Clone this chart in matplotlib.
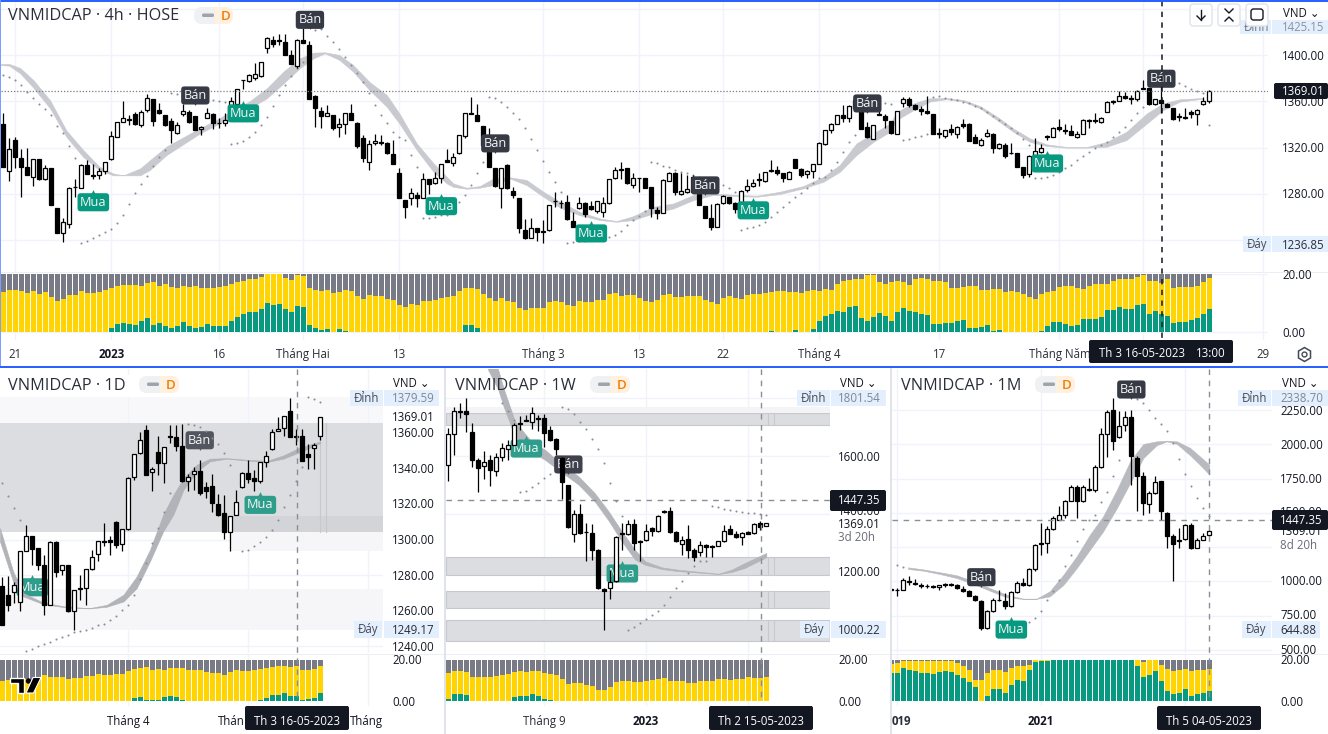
import matplotlib
matplotlib.use("Agg")
import matplotlib.pyplot as plt
from matplotlib.patches import FancyBboxPatch, Rectangle, Polygon, Circle

W, H = 1328, 734
plt.rcParams['font.family'] = ['Open Sans', 'DejaVu Sans']

# ---------- 4h candles ----------
h4_open = [1340.5,1300,1326.6,1311,1303.5,1295,1310,1293,1302,1268,1246,1254,1286,1285,1305,1296,1296,1300,1310,1329.5,1342,1344.5,1349,1339.6,1353,1362,1353,1348.6,1343,1333,1349,1351,1347.4,1336,1346,1349,1341.6,1341,1349,1358,1378.6,1378,1380,1382,1406,1413,1413,1411.6,1400,1391,1413,1409,1365,1351.5,1347,1348,1337.6,1340.5,1350,1341.6,1328,1308,1324,1325,1323.7,1314.5,1298,1274.6,1276,1279,1276,1292.5,1289,1293.7,1309,1307,1315,1330,1350,1348,1339,1322,1302.6,1285,1305,1282.7,1276,1249,1242,1250,1247.7,1248.6,1274,1272,1273,1256.7,1268,1271.7,1269.4,1265.4,1264.5,1271.7,1293.4,1301.8,1302,1287.6,1294,1294,1285.6,1266,1263,1291,1298,1280,1282,1295,1280,1269.4,1259,1251,1271.7,1277,1272,1271,1283,1287,1292.5,1291,1299.5,1300.6,1297.7,1293,1310,1301.8,1297,1300,1305.8,1323,1335,1340.5,1348,1345.4,1354,1354,1338,1327.8,1349,1347,1343,1332,1358.4,1362,1356.7,1353.8,1352,1349,1333,1330,1336,1332,1340.5,1340.5,1329,1322,1330,1332,1320,1322.6,1315.6,1315,1303,1297,1313,1316.5,1330,1329.5,1337.6,1335.3,1334,1329,1332,1344,1344,1342,1351,1359.6,1360.7,1364.8,1363,1362.5,1371.7,1371.4,1357.8,1361.3,1357.8,1354,1347.4,1346.3,1351,1349,1358,1360]
h4_close = [1303,1318.5,1312,1303.5,1296,1310,1293,1302,1270,1246,1256,1285,1285.6,1305,1297,1295.4,1300,1308,1330,1342,1346,1344,1340.5,1351,1363,1343,1350,1340,1335,1339.6,1352,1342,1335,1338,1350,1341,1341,1344,1360,1371,1379,1383,1384,1394.5,1415,1410,1412,1400,1392.5,1413,1411,1362,1354,1347,1350,1337,1340.5,1350,1344,1321,1311,1323,1326,1323.7,1315,1306,1276,1269,1281,1276,1293,1288.8,1293.7,1306,1308,1311.6,1330.7,1350,1349.5,1343,1322,1303.5,1287,1302,1285,1279,1250,1242,1250,1247,1247,1270,1273.4,1271.7,1258,1251.5,1271.7,1262.5,1266.5,1273.4,1272,1293,1300.6,1301,1289,1294,1293.4,1285,1267.7,1263,1292,1298,1282,1282.4,1284.4,1282,1270,1258.7,1251,1271,1278.4,1272,1267,1282.7,1286.7,1289,1291.6,1299,1301,1297.7,1294,1299,1302,1296,1300,1305.8,1324,1335,1340.5,1348,1346,1356,1361,1336,1329,1339.6,1348,1344,1333,1351.5,1362.5,1356.7,1353.8,1352,1349.7,1332,1332,1335,1333.6,1338,1339,1326,1324,1326.6,1332.4,1319.7,1323,1313,1315,1303.5,1296.6,1313,1317.4,1320,1329,1337,1336.5,1334,1331.2,1332,1344,1343,1343,1346,1359.6,1360.7,1364.8,1363,1362.5,1369.4,1371,1357.5,1362,1359,1355.5,1344.5,1346.3,1345.7,1349,1353,1360,1369.4]
h4_high = [1350,1328,1329.5,1319,1320,1310,1310,1305,1302,1268,1259,1285.6,1293,1306,1309,1306,1302,1308,1334,1342,1360,1348,1351,1353,1366.5,1362.5,1359,1348.6,1346,1342,1358,1353,1347.4,1339,1354,1350,1345.4,1350,1363.6,1371,1379,1384,1393,1394.5,1415.6,1417,1418.5,1418.5,1404.6,1414,1423.4,1412.7,1365.6,1355.5,1356.7,1348,1346,1350,1358,1342.5,1331,1326.6,1332,1330.7,1325,1327,1302,1274.6,1284.7,1282,1297.7,1292.5,1299,1306,1319,1315,1331,1350,1364,1358,1339,1336.7,1302.6,1302.6,1306,1286,1276,1258,1258.7,1250.6,1257,1270,1282,1274.6,1279,1264,1277.5,1273,1273.4,1274,1277.5,1293,1303.5,1307.3,1302,1297.7,1294,1294,1286,1269,1292.5,1299,1299,1297.7,1296,1296,1280,1269.4,1271,1271.7,1279,1277.5,1273,1283,1293,1293,1297.7,1299,1309,1304,1298,1300,1310.4,1302,1301,1306,1325,1335,1341,1348.6,1356.7,1356.7,1362,1358,1342.5,1340,1355,1349,1343.5,1351.5,1363.6,1364,1358,1356,1364.8,1349,1337,1335,1340.5,1339,1344.5,1341,1332,1328,1336,1332.4,1324,1323.7,1324,1315,1303.5,1313.3,1328,1323,1331,1337.6,1344.5,1340.5,1339.6,1334,1344.5,1344.5,1349.7,1346.9,1360,1361,1369.4,1368.5,1365.6,1370,1379,1371.4,1362.5,1373,1359,1354,1349.7,1354,1353,1353.8,1364,1370]
h4_low = [1303,1291,1302,1277,1296,1287,1292,1292,1270,1246,1238,1250,1277.5,1285,1297,1293,1293,1297,1309,1329.5,1342,1339.6,1339.6,1337.6,1351,1339,1349,1339,1324,1332,1347,1341,1335,1331,1346,1336,1337,1339,1346,1354,1370.5,1377,1379,1381,1402,1407.5,1409,1400,1392.5,1389,1411,1362,1338,1337,1347,1335,1329.5,1332,1344,1320,1308,1301,1322.6,1322,1314.5,1306,1276,1259,1270,1269,1276,1280,1288.5,1289.6,1308,1304,1314.5,1328,1349,1343,1322,1303.5,1286,1268,1284,1276,1245.7,1241,1241.7,1239,1237,1248,1269,1268,1257,1251.5,1266.5,1259.6,1266,1263.6,1260,1271,1293,1293,1288.5,1284.7,1282,1284.7,1260,1258,1263,1291,1279,1278.6,1281,1281,1270,1258.7,1248.6,1251,1271,1271,1263,1267,1282,1286,1286.7,1290.5,1299,1296.6,1290.5,1293,1302,1295,1293.4,1294,1305.8,1322,1333,1340.5,1342.5,1342,1354,1336,1328,1327.8,1348,1337,1332,1331.5,1355.5,1355.5,1352.6,1348,1349.5,1332,1328,1328,1331,1328,1337,1325.5,1323.7,1321.5,1329,1315.6,1319,1310.7,1314.5,1303,1293.4,1295,1312,1315,1326.6,1329,1334,1332,1331,1328,1331.7,1337,1341,1341,1350.5,1358,1360,1362.5,1358,1360,1370.5,1357.2,1357.3,1349.7,1355,1344,1343,1345.1,1345.7,1339.6,1357,1359]

# ribbon, 4h
h4_rib_k = [-0.5,1,2.8,5,7.8,10.5,13.3,16,18.3,20,22.8,24.4,27.2,30,32.8,35.5,38.3,41,43.9,46.7,49.4,51.7,53.6,56,58.3,61,63.9,66,68.9,71.7,73.9,75,77.2,79.4,81.7,84.4,87.2,90,92.8,96,99.4,102.2,105,108.3,111.7,115,118.3,122.2,125.6,129.4,133.3,136.7,139.4,142.2,145,147.8,148.9,151.7,154.4,157.2,160,162.8,165.6,168.3,171.1,173.9,177.2,180.6,183.9,187.2,190.6,193.3,196.1,200]
h4_rib_up = [1392.5,1392.5,1389,1378.6,1361,1335,1318,1303.5,1297.7,1296,1302,1309,1321,1329,1337,1344,1352.6,1360,1371.4,1386,1397.4,1402.3,1402.6,1400.3,1391.6,1377,1365.6,1349.7,1323.7,1306.4,1294.8,1289,1285.3,1286.7,1293.4,1294.3,1292,1281.8,1273,1264.5,1258.7,1256.4,1260.7,1268.8,1271.7,1279,1280.4,1279,1278.4,1281.8,1286.7,1294.8,1305,1323.7,1332.4,1341,1351,1358.4,1362.7,1363,1361.3,1356,1346.9,1336.7,1328,1322.9,1320.6,1320.6,1325,1333.8,1349.7,1358.4,1361.9,1363]
h4_rib_lo = [1391.6,1391,1384.4,1372,1354,1329.5,1312,1300.6,1296,1296,1296,1300.6,1313.6,1323,1332.4,1339.6,1348.3,1354,1362.7,1375.7,1388.8,1397.4,1401.8,1396,1385.9,1370,1355.5,1341,1318,1299,1289,1286,1284.4,1285.3,1287.6,1293.4,1287.6,1277.5,1268,1261.6,1257.3,1255.8,1257.3,1263,1267.4,1274.6,1279,1278,1277.5,1279.8,1284.7,1290.5,1299,1313.6,1325,1333.8,1344,1352.6,1359.9,1362,1359.9,1354,1344,1333.8,1325,1321.4,1320,1320,1320.8,1326.6,1341,1352.6,1359.9,1362.5]

# dots, 4h
h4_sar_k = list(range(0,38))+list(range(38,51))+list(range(52,75))+list(range(76,143))+[146,147,148]+list(range(150,155))+list(range(155,172))+list(range(172,191))+list(range(195,202))
h4_sar_p = [1383,1381.5,1378.6,1374.3,1368.5,1363.3,1357.8,1353.2,1348.3,1339,1332.4,1321.4,1311,1237.6,1238.8,1241.7,1244.3,1247.1,1249.7,1254.4,1261.6,1271.1,1280.4,1288.2,1295.4,1304,1311.6,1318,1367,1366.5,1366,1365.5,1365,1364,1363,1361.3,1360.4,1359.6,
1323.2,1324,1326,1329,1333.8,1339.6,1346.3,1356,1365.6,1374.3,1382,1388.8,1394.5,
1422,1422.6,1417,1411.9,1405.5,1398.3,1391.6,1385,1377.2,1367.7,1357,1348.3,1341,1333.8,1329,1327,1313.6,1303.5,1258.7,1259.3,1260,1261.6,1262,
1273,1279,1287.6,1298.3,1307.3,1364.2,1362.7,1359.9,1355,1349.7,1344.5,1336.7,1327.2,1318,1308.7,1298.9,1290.2,1281.5,
1237,1237.9,1238.8,1239.3,1239.9,1240.5,1241.4,1242.2,1244,1248,1252.6,1257.3,1261,1264.8,
1307.5,1306.4,1304,1303,1301,1299,1298.3,1296.3,1294.8,1293.4,1292,1289.6,1287.6,1284.7,1281.8,
1249,1250.3,1251.5,1253,1255.8,1259.6,1264.2,1268.8,1273,1277,1281,1284.7,1289,1294,1295,1301,1308,1316.5,1325,1331,
1360,1359,1357.8,
1326.6,1327.8,1329,1330,1331.8,
1364,1364.8,1362.7,1361.9,1361.3,1359.9,1358.4,1356,1354,1351.2,1347.7,1344,1340.5,1336.7,1332.4,1327.2,1322.3,
1293.4,1293.7,1294.5,1296.3,1299,1302,1305,1309.3,1312.8,1316.5,1319.4,1322.3,1325.2,1329.5,1333.8,1338.2,1344,1349.7,1355,
1378.6,1375.7,1373.4,1370.5,1369,1367.7,1339.3]

# stacked pane, 4h
h4_yellow = [13.9,14.7,14.5,14.3,13.7,14.2,13.4,13.8,12.2,10.9,11.4,13.1,13.1,14.3,13.7,13.7,13.8,14.5,15.4,16.2,16.5,16.5,16.3,16.2,17.0,17.5,16.1,16.6,15.7,15.3,16.0,15.7,16.2,15.5,15.3,15.4,15.7,16.2,
16.8,17.5,17.9,18.3,18.4,19.1,20,20,20,18.9,18.2,19.8,19.5,15.4,14.7,14.3,14.5,13.7,13.8,14.5,14.3,12.5,11.7,12.8,12.6,12.5,11.7,11.3,9.4,8.8,9.7,9.6,10.9,10.7,11.1,12.0,12.2,12.6,14.2,15.4,15.4,15.1,13.4,12,10.7,11.9,10.7,10.5,8.5,7.9,8.6,8.6,8.5,10.5,10.7,10.6,9.6,9.1,10.9,10.5,10.6,11.1,11.3,13.4,13.6,12.6,13,12.8,12,10.9,10.6,11.1,
13.1,13.4,12.2,12.2,12.5,12.6,12.5,11.3,10.6,9.9,11.8,12.5,12,11.4,13.1,13.4,13.4,13.7,14.1,14.4,14.3,13.9,14.1,13.7,14.3,14.5,14.2,14.9,14.5,16.8,17.7,18.2,18.6,18.4,19.8,19.8,17.4,16.6,17.4,17.9,17.4,16.3,18.3,18.9,18.5,17.9,17.7,17.4,15.5,15.5,15.7,15.9,16.1,14.5,14.5,15.1,15.1,13.8,14.3,13.9,13.4,12.3,11.4,13.4,13.8,14.3,15.7,16.1,16.1,15.4,15.1,16.2,16.8,16.7,16.7,17.7,18.5,18.6,18.5,19.1,19.8,17.7,17.9,17,18.4,15.3,15.7,15.8,15.7,16.2,17.4,18.7]
h4_green = [0.2]*18+[1.7,2.9,3.4,3.1,2.7,3.8,4.9,2.5,3.4,2.3,1.7,2.3,3.5,2.3,1.5,1.9,3.1,2.2,2.3,2.4,4,5.4,6.3,6.9,7.1,8,10.1,9.5,9.7,8,7,9.3,8.8,2.5,1.7,0.8,1.1,0.2,1.3,0.5]+[0.2]*19+[2.5,2.5,1.7]+[0.2]*48+[0.5,0.2,0.2,0.2,0.7,0.2,0.3,1.1]+[3.9,5.6,6.5,7.4,7.2,8.7,9,4.9,3.8,5.5,6.6,5.8,4.1,6.9,8.3,7.5,6.9,6.5,6.2,3.1,3,3.4,3.2,4.1,4.2,1.7,1.5,1.9,2.7,0.6,1]+[0.2]*6+[0.5,2.4,3.7,3.5,3.1,2.4,2.7,4.7,4.6,4.7,5.3,7.8,7.9,8.7,8,8,9.4,9.9,6.3,7.3,6.5,5.6,3.2,3.5,3.5,4.2,5.1,6.5,8.2]

h4_buy_k = [15,40,73,98,125,174]
h4_buy_p = [1274,1351,1270.6,1247,1267,1307.6]
h4_sell_k = [51.1,32,82,117,144,193]
h4_sell_p = [1432,1366.5,1325,1288.6,1359.6,1381]
h4_ticks = [2,18,36,50,66,90,106,120,136,156,176,190,210]
h4_ticklabels = ['21','2023','16','Tháng Hai','13','Tháng 3','13','22','Tháng 4','17','Tháng Năm','','29']

# ---------- 1D ----------
d_open = [1273.6,1268.6,1270.3,1264.8,1293.3,1301.7,1295,1285.8,1263.3,1298.4,1282.6,1285.4,1259.6,1272.3,1272.7,1283.6,1291.8,1299.3,1299.7,1309.8,1297.4,1306,1334.9,1348.4,1361.7,1338.2,1349.1,1342.9,1357.9,1357.5,1352.3,1332.6,1336.7,1338.6,1329.3,1330.2,1319.9,1314.8,1304,1313.5,1329.4,1337.1,1334.3,1332.6,1343.5,1351,1360.7,1362.6,1372,1357.9,1358.1,1348,1351.2,1357.9]
d_close = [1252,1263.3,1274.2,1293.3,1301.7,1294.8,1285.8,1263.3,1298.5,1282,1285.4,1259.6,1271.8,1272.7,1283.6,1289.9,1299.3,1298.5,1298.4,1296.7,1305.8,1334.5,1348,1356,1336.4,1339.7,1342.9,1351.7,1357.5,1352.3,1332.6,1335.2,1338.6,1326,1327,1320.5,1313.9,1304,1313.3,1320.8,1337.3,1334.1,1332.6,1343.3,1347,1360.3,1362.2,1369.5,1357.5,1357.5,1344.2,1346.1,1353,1369]
d_high = [1279,1279.3,1276.4,1293.7,1307.9,1301.7,1295,1291.4,1298.9,1298.9,1285.4,1285.4,1271.8,1280.2,1283.6,1294.2,1299.3,1309.4,1301.7,1310.5,1305.8,1334.9,1348,1360.3,1364.5,1341,1357.9,1351.7,1364.5,1364.5,1364.8,1336.7,1340.5,1344.4,1332.3,1336.7,1325.5,1324.8,1313.3,1328,1337.9,1344.8,1339.2,1343.3,1349.9,1362,1369.1,1369.5,1379.4,1362.2,1362.2,1353.6,1354.2,1369]
d_low = [1252,1259.6,1264.3,1259.6,1293.3,1285.8,1283,1257.7,1263,1278.7,1279.8,1259.2,1249.3,1266.1,1263.3,1283,1288,1296.1,1291.4,1295.5,1293.3,1305.6,1333.6,1348,1336.4,1327,1336.4,1331.7,1354.2,1349.5,1332.3,1327,1328,1325.1,1323.3,1315.4,1313,1300.4,1293.7,1313.5,1329.2,1331.7,1327.4,1331.7,1341,1350.4,1360.7,1357.9,1357.5,1352.9,1343.9,1339.6,1339.6,1356]
d_rib_k = [-0.4,1.8,3.5,6.8,10.7,14.6,17.4,20.2,22.4,24.6,26.8,28.5,30.2,32.4,34.6,37.4,40.7,44.1,46.8,49.6,53]
d_rib_up = [1306.4,1282.1,1269.9,1264.6,1262.2,1261.5,1263.3,1269,1279.3,1294.2,1313.9,1325.1,1334.5,1342,1345.4,1345.7,1344.8,1344.2,1347.2,1351.7,1355.1]
d_rib_lo = [1298.9,1276.4,1268,1263.7,1261.8,1261.3,1262.2,1265.2,1272.7,1287.7,1304.5,1313.9,1328,1338.2,1343.9,1345.4,1344.4,1343.5,1345.4,1349.1,1354.2]
d_sar_k = [0,1,2,3]+list(range(4,29))+list(range(31,39))+list(range(40,51))+[51,52,53]
d_sar_p = [1331.7,1324.2,1317.6,1310.7,1237.1,1238.4,1239.9,1241.2,1242.4,1244,1245.2,1246.5,1248,1248.7,1249.3,1250.2,1251.7,1252.7,1254.9,1257.3,1260.2,1263.3,1269,1277.8,1286.7,1298,1306.4,1315.2,1326,1364.8,1364.5,1363,1360.7,1357,1353.4,1348.5,1341.6,1293.7,1294.2,1296.5,1298.5,1301.4,1305.1,1310.9,1318,1325.1,1332.6,1341,1379.8,1379,1377.2]
d_yellow = [9.9,10.2,10.6,10.6,10.7,10.4,11.2,12.6,11.8,11.8,11.8,10.9,11.4,11.4,12,12.3,13.1,12.6,12.8,13.3,13.1,14.7,15.5,15.8,16.5,15.2,15.4,15.2,16,16.2,16,15.2,14.9,14.9,14.1,13.8,13.6,12.8,14.1,15,14.7,14.7,14.9,15.7,16,16.6,16.8,17.1,16.3,16.8,15.2,15.2,15.5,17.1]
d_green = [0.3]*22+[1.6,2.1,0.5,0.8,0.8,1.9,2.4,1.9,0.6]+[0.3]*12+[0.6,1.4,2.9,3,4,2.7,2.7,0.8,1,1.8,4]
d_buy_k, d_buy_p = [5,43], [1274,1320.3]
d_sell_k, d_sell_p = [32.9], [1356.6]
d_ticks = [21,41,61]

# ---------- 1W ----------
w_open = [1569,1677,1758,1758,1683,1588,1568,1588,1548,1597,1626,1640,1715,1726,1718,1733,1733,1691,1660,1594,1502,1333,1402,1339,1334,1277,1142,1145,1168,1334,1333,1366,1307,1311,1352,1341,1411,1412,1338,1298,1315,1277,1268,1293,1290,1291,1306,1350,1331,1321,1337,1334,1369,1360]
w_close = [1677,1758,1754,1746,1588,1560,1579,1554,1597,1629,1638,1707,1712,1721,1750,1729,1681,1658,1625,1510,1354,1401,1335,1337,1277,1145,1135,1165,1320,1331,1366,1300,1303,1342,1341,1395,1406,1338,1306,1312,1277,1253,1295,1288,1286,1306,1341,1333,1321,1336,1333,1367,1357,1368]
w_high = [1698,1769,1784,1802,1715,1594,1617,1603,1612,1646,1658,1715,1738,1744,1769,1744,1746,1704,1663,1597,1502,1416,1435,1369,1366,1280,1145,1208,1323,1369,1381,1384,1312,1366,1357,1396,1416,1424,1341,1323,1364,1283,1306,1297,1292,1308,1364,1364,1341,1338,1343,1368,1377,1371]
w_low = [1514,1606,1733,1683,1563,1477,1523,1496,1531,1583,1588,1638,1692,1721,1696,1686,1632,1654,1603,1454,1352,1304,1333,1239,1243,1142,1001,1108,1165,1277,1329,1277,1239,1308,1323,1338,1404,1335,1304,1260,1248,1237,1254,1251,1251,1289,1304,1331,1318,1295,1331,1333,1344,1359]
w_rib_k = [6.6,8.3,9.2,11.1,13.9,16.1,18.3,21.7,24.4,26.7,28.9,31.1,32.8,35.6,38.3,41.7,45,47.2,49.4,53]
w_rib_up = [1952,1900,1836,1721,1650,1623,1583,1531,1473,1410,1341,1277,1237,1216,1208,1201,1194,1208,1231,1266]
w_rib_lo = [1900,1831,1773,1669,1615,1588,1554,1502,1444,1378,1306,1243,1225,1210,1203,1198,1193,1200,1214,1251]
w_sar_k = list(range(9,18))+list(range(19,54))
w_sar_p = [1784,1756,1727,1477,1481,1493,1509,1525,1539,1771,1764,1746,1720,1696,1661,1624,1577,1507,1447,1394,999,1009,1022,1039,1053,1064,1085,1112,1145,1170,1197,1220,1239,1239,1427,1424,1419,1414,1412,1409,1405,1403,1402,1397]
w_yellow = [13.6,14.4,14.6,14.2,11.8,11.5,11.8,11.5,12.2,12.8,13.1,14.2,14.4,14.2,14.7,14.6,13.6,13.1,12.8,10.7,8.3,8.8,8.8,8,7.2,5.6,5.4,6.7,9.4,9.6,9.9,9.4,9.3,9.9,10.1,10.9,11.2,9.9,9.6,9.6,9,8.8,9.6,9.6,9.9,10.7,10.6,10.2,10.6,10.7,11.5,11.2,11.4,11.5]
w_green = [1.3,3.5,3.4,3.2]+[0.3]*7+[2.2,2.4,2.4,3.4,2.4,1.3,0.5]+[0.3]*36
w_buy_k, w_buy_p = [13,29], [1632,1200]
w_sell_k, w_sell_p = [20], [1577]
w_ticks = [16,33,50]

# ---------- 1M ----------
m_open = [941,939,934,1000,990,975,968,966,956,980,980,970,946,927,890,858,659,780,866,858,817,922,988,970,1090,1280,1278,1382,1451,1482,1590,1687,1585,1677,1665,1836,2079,2255,2052,2140,2199,1901,1767,1565,1643,1731,1499,1331,1304,1309,1414,1246,1304,1336]
m_close = [936,934,1007,992,980,968,963,961,970,975,970,951,932,895,861,659,780,866,861,822,922,988,970,1090,1265,1273,1385,1463,1482,1590,1687,1590,1687,1670,1836,2079,2235,2028,2138,2199,1914,1772,1572,1646,1728,1511,1331,1275,1297,1414,1243,1304,1334,1368]
m_high = [951,951,1024,1036,1019,988,980,975,975,990,990,980,963,939,902,866,793,878,939,914,932,1000,1024,1097,1273,1426,1402,1475,1548,1597,1706,1706,1706,1755,1848,2121,2255,2340,2243,2248,2255,1914,1799,1658,1767,1736,1507,1346,1390,1419,1426,1317,1353,1377]
m_low = [927,890,934,975,971,951,951,951,939,956,963,946,922,890,854,646,654,776,854,800,814,917,963,966,1073,1190,1207,1373,1446,1463,1585,1463,1580,1658,1653,1831,1906,1957,2048,2096,1706,1516,1482,1497,1638,1451,1243,1005,1243,1304,1238,1243,1300,1331]
m_rib_k = [2.8,5.3,8.1,10.9,13.7,16.4,19.2,22,24.2,26.4,28.7,30.9,33.1,35.3,37.6,39.8,42,44.2,45.9,47.6,49.8,51.4,53]
m_rib_up = [1102,1087,1066,1044,1000,951,902,873,873,927,1049,1183,1341,1475,1670,1877,2004,2023,2028,2023,1975,1914,1853]
m_rib_lo = [1090,1078,1053,1024,980,932,883,871,872,890,975,1097,1231,1365,1536,1719,1901,1994,2023,2004,1921,1853,1780]
m_sar_k = [1,2]+list(range(23,39))+list(range(41,54))
m_sar_p = [1122,1105,700,732,785,861,932,1007,1109,1195,1292,1382,1448,1487,1577,1650,1772,1887,2335,2304,2250,2194,2150,2096,2011,1897,1784,1694,1609,1536,1475]
m_yellow = [17.9,18.4,19.2,19.5,19.2,19.5,19.2,19.2,19.5,19.5,19.5,18.4,16.8,15.2,10.4,10.4,13.6,15.2,15.2,14.1,16,17.1,17.1,17.6]+[20]*18+[18.7,19.7,20,17.6,15.5,14.7,14.9,15.7,14.4,15,15.2,15.5]
m_green = [13.6,13.6,16,15.2,14.7,13.8,13.6,13.3,14.1,14.4,14.2,12.5,11.2,9.3,6.9,0,2.4,5.8,5.8,3.8,8,10.4,9.6,15.2,19,19.2,19.5]+[20]*14+[16.8,11.5,12.8,14.4,9.9,4.8,3.7,4,6.1,2.6,3.7,4,5.1]
m_buy_k, m_buy_p = [20], [658]
m_sell_k, m_sell_p = [15,40], [1041,2413]
m_ticks = [1,25,49]

# ---------- styles ----------
GRID = '#f0f3fa'; TXT = '#131722'; GRAY = '#787b86'; YEL = '#ffd400'; GRN = '#089981'; SELL = '#363a45'
fig = plt.figure(figsize=(W/100, H/100), dpi=100, facecolor='white')


def pane(x0, y0, x1, y1, xa, sp, ya, va, yb, vb, z=1):
    ax = fig.add_axes([x0/W, 1-y1/H, (x1-x0)/W, (y1-y0)/H], zorder=z)
    ax.set_xlim((x0-xa)/sp, (x1-xa)/sp)
    f = lambda y: va+(y-ya)*(vb-va)/(yb-ya)
    ax.set_ylim(f(y1), f(y0))
    ax.set_xticks([]); ax.set_yticks([])
    for s in ax.spines.values():
        s.set_visible(False)
    ax.patch.set_alpha(0)
    return ax


def candles(ax, o, h, l, c, start=0, width=0.66):
    for i, (a, b, d, e) in enumerate(zip(o, h, l, c)):
        k = i+start
        ax.plot([k, k], [d, b], color='black', lw=0.9, zorder=4, solid_capstyle='butt')
        up = e >= a
        ax.bar(k, abs(e-a), bottom=min(a, e), width=width, facecolor='white' if up else 'black',
               edgecolor='black', lw=0.9, zorder=5)


def stacked(ax, yel, grn, start=0):
    ks = [i+start for i in range(len(yel))]
    ax.bar(ks, [20]*len(yel), width=0.78, color=GRAY, zorder=2)
    ax.bar(ks, yel, width=0.78, color=YEL, zorder=3)
    ks2 = [i+start for i in range(len(grn))]
    ax.bar(ks2, grn, width=0.78, color=GRN, zorder=4)


def badge(ax, ks, ps, text, col, up, z=7, pad=0.2):
    y0, y1 = ax.get_ylim()
    bbox = ax.get_position()
    u = (y1-y0)/(bbox.height*H)
    for k, p in zip(ks, ps):
        ax.text(k, p, text, ha='center', va='center_baseline', color='#f4f5f6', fontsize=9.2, zorder=z,
                bbox=dict(boxstyle=f'round,pad={pad},rounding_size=0.25', fc=col, ec='none'))
        off = 9*u if up else -9*u
        ax.plot([k], [p+off], marker='^' if up else 'v', ms=3.5, color=col, mec='none', zorder=z, clip_on=False)


def decorate(ax, ribk, ribu, ribl, sark, sarp, hlines, vticks, ribcol, sarsize=1.8):
    for v in hlines:
        ax.axhline(v, color=GRID, lw=1, zorder=0)
    for v in vticks:
        ax.axvline(v, color=GRID, lw=1, zorder=0)
    ax.fill_between(ribk, ribl, ribu, color=ribcol, lw=0.4, ec=ribcol, zorder=2)
    ax.scatter(sark, sarp, s=sarsize, color='#8b8e98', lw=0, zorder=3)


# ---------- top panel ----------
a = pane(1, 2, 1268, 272, 3.33, 6, 55.3, 1400, 240, 1240)
decorate(a, h4_rib_k, h4_rib_up, h4_rib_lo, h4_sar_k, h4_sar_p, [1440, 1400, 1360, 1320, 1280, 1240], h4_ticks, '#c9cad0', 2.2)
candles(a, h4_open, h4_high, h4_low, h4_close)
a.axhline(1369.01, color='#787b86', ls=(0, (1, 1.5)), lw=0.9, zorder=6)
badge(a, h4_buy_k, h4_buy_p, 'Mua', GRN, True)
badge(a, h4_sell_k, h4_sell_p, 'Bán', SELL, False)
b = pane(1, 274, 1268, 340, 3.33, 6, 274.5, 20, 332.5, 0)
for v in h4_ticks:
    b.axvline(v, color=GRID, lw=1, zorder=0)
for v in (20, 0):
    b.axhline(v, color=GRID, lw=1, zorder=0)
stacked(b, h4_yellow, h4_green)

# ---------- 1D ----------
a = pane(0, 369, 383, 653, 2.33, 6, 432.7, 1360, 646.3, 1240)
a.axhspan(1365.4, 1380, color='#f8f8fa', lw=0, zorder=0)
a.axhspan(1304, 1365.4, color='#dcdde0', lw=0, zorder=0.1)
a.axhspan(1293.7, 1304, xmin=0.6, color='#f6f6f8', lw=0, zorder=0.1)
a.axhspan(1304, 1313, xmin=0.6, color='#d3d4d8', lw=0, zorder=0.15)
a.axhspan(1249.3, 1272.3, color='#f6f6f8', lw=0, zorder=0.1)
decorate(a, d_rib_k, d_rib_up, d_rib_lo, d_sar_k, d_sar_p, [1360, 1340, 1320, 1300, 1280, 1260, 1240], d_ticks, '#b2b3b8', 2.2)
a.axvline(53, ymin=0.426, ymax=0.81, color='#c8c9cd', lw=0.8, zorder=1)
a.axvline(54, ymin=0.426, ymax=0.81, color='#c8c9cd', lw=0.8, zorder=1)
candles(a, d_open, d_high, d_low, d_close)
badge(a, d_buy_k, d_buy_p, 'Mua', '#2f9d8c', True, z=1.5)
badge(a, d_sell_k, d_sell_p, 'Bán', '#53565f', False, z=1.5)
b = pane(0, 655, 383, 706, 2.33, 6, 659.7, 20, 701.3, 0)
for v in d_ticks:
    b.axvline(v, color=GRID, lw=1, zorder=0)
stacked(b, d_yellow, d_green)

# ---------- 1W ----------
a = pane(446, 369, 830, 653, 448.33, 6, 456.3, 1600, 572, 1200)
for lo_v, hi_v in [(1707, 1750), (1188, 1251), (1076, 1133), (960, 1035)]:
    a.axhspan(lo_v, hi_v, fc='#dcdde0', ec='#c8c9cd', lw=0.8, zorder=0.1)
    a.plot([53.2, 53.2], [lo_v, hi_v], color='#c8c9cd', lw=0.8, zorder=0.2)
    a.plot([54.2, 54.2], [lo_v, hi_v], color='#c8c9cd', lw=0.8, zorder=0.2)
a.axhspan(1750, 1769, color='#f4f4f6', lw=0, zorder=0.1)
decorate(a, w_rib_k, w_rib_up, w_rib_lo, w_sar_k, w_sar_p, [1800, 1600, 1400, 1200, 1000], w_ticks, '#b4b5ba', 2.2)
candles(a, w_open, w_high, w_low, w_close)
badge(a, w_buy_k, w_buy_p, 'Mua', '#2f9d8c', True, z=3.5)
badge(a, w_sell_k, w_sell_p, 'Bán', '#3f424d', False, z=3.5)
b = pane(446, 655, 830, 706, 448.33, 6, 659.7, 20, 701.3, 0)
for v in w_ticks:
    b.axvline(v, color=GRID, lw=1, zorder=0)
stacked(b, w_yellow, w_green)

# ---------- 1M ----------
a = pane(892, 369, 1272, 653, 891.33, 6, 410.3, 2250, 649.7, 500)
decorate(a, m_rib_k, m_rib_up, m_rib_lo, m_sar_k, m_sar_p, [2250, 2000, 1750, 1500, 1250, 1000, 750, 500], m_ticks, '#b9babf', 2.2)
candles(a, m_open, m_high, m_low, m_close)
badge(a, m_buy_k, m_buy_p, 'Mua', GRN, True)
badge(a, m_sell_k, m_sell_p, 'Bán', SELL, False)
b = pane(892, 655, 1272, 706, 891.33, 6, 659.7, 20, 701.3, 0)
for v in m_ticks:
    b.axvline(v, color=GRID, lw=1, zorder=0)
stacked(b, m_yellow, m_green)

# ---------- chrome (pixel overlay) ----------
o = fig.add_axes([0, 0, 1, 1], zorder=20)
o.set_xlim(0, W); o.set_ylim(H, 0); o.axis('off'); o.patch.set_alpha(0)


def box(x0, y0, x1, y1, col, z=5, r=0.0):
    if r:
        o.add_patch(FancyBboxPatch((x0+r, y0+r), x1-x0-2*r, y1-y0-2*r, boxstyle=f'round,pad={r},rounding_size={r}', fc=col, ec='none', zorder=z))
    else:
        o.add_patch(Rectangle((x0, y0), x1-x0, y1-y0, fc=col, ec='none', zorder=z))


def t(x, y, s, col=TXT, fs=8.3, ha='left', z=6, **kw):
    o.text(x, y+0.8, s, color=col, fontsize=fs, ha=ha, va='center', zorder=z, **kw)


def pill(x0, y0, x1, y1):
    mid = (x0+x1)/2+1
    box(x0, y0, x1, y1, '#f0f1f3', 5, 8)
    box(mid, y0, x1, y1, '#fff0e0', 5, 8)
    box(mid, y0, mid+8, y1, '#fff0e0', 5)
    box(x0+8, y0+6.5, x0+20, y0+10, '#a0a3ab', 6, 1.5)
    t(mid+11, (y0+y1)/2, 'D', '#f57c00', 9.5, ha='center', fontweight='semibold')


# borders
box(0, 0, W, 2, '#2962ff', 10)
box(0, 0, 1.2, 367, '#7f9dff', 10)
box(0, 365.5, W, 367.5, '#2962ff', 10)
box(443.5, 368, 445.5, H, '#e0e3eb', 3)
box(890, 368, 892, H, '#e0e3eb', 3)
box(1, 272, 1328, 273, '#eceef3', 2)
box(0, 653.5, 1328, 654.5, '#eceef3', 2)

# top labels
TITLE = 11.7
t(8, 15, 'VNMIDCAP · 4h · HOSE', '#2a2e39', TITLE)
pill(194, 7, 233, 24)
for v, y in [('1400.00', 55.5), ('1360.00', 102), ('1320.00', 148), ('1280.00', 194), ('20.00', 274.5), ('0.00', 332.5)]:
    t(1282, y, v)
t(1283, 13, 'VND ⌄', fs=8.3)
box(1240, 20, 1271, 34, '#e3effd'); box(1272, 20, 1328, 34, '#e3effd')
t(1256, 27, 'Đỉnh', '#6f7480', ha='center'); t(1282, 27, '1425.15', '#8d93a0')
box(1243, 236, 1271, 252, '#e3effd'); box(1272, 236, 1328, 252, '#e3effd')
t(1257, 244, 'Đáy', '#444a55', ha='center'); t(1282, 244.5, '1236.85', '#2a2e39')
box(1274, 83, 1328, 99, '#131722', 7, 2)
t(1282, 91, '1369.01', 'white', z=8)
for v, lab in zip(h4_ticks, h4_ticklabels):
    t(3.33+6*v, 353.5, lab, '#2a2e39' if lab != '2023' else TXT, 8.3, ha='center', fontweight='bold' if lab == '2023' else 'normal')
box(1089, 340, 1233, 363, '#131722', 7, 2)
t(1099, 353, 'Th 3 16-05-2023', 'white', 8.3, z=8); t(1196, 353, '13:00', 'white', 8.3, z=8)
o.plot([1161.5, 1161.5], [1, 340], color='#131722', lw=1.1, ls=(0, (3.5, 3.5)), zorder=6)
o.plot([1303.5], [353.5], marker='h', ms=10, mfc='none', mec='#444a55', mew=1.1, zorder=6)
o.plot([1303.5], [353.5], marker='o', ms=3.5, mfc='none', mec='#444a55', mew=1, zorder=6)
for cx in [1201, 1229, 1257]:
    o.add_patch(FancyBboxPatch((cx-8.5, 6.5), 17, 17, boxstyle='round,pad=2.5,rounding_size=3', fc='white', ec='#e0e3eb', lw=1, zorder=8))
o.plot([1201, 1201], [10, 20], color=TXT, lw=1, zorder=9)
o.plot([1197, 1201, 1205], [16, 20, 16], color=TXT, lw=1, zorder=9)
o.plot([1225, 1229, 1233], [9, 13, 9], color=TXT, lw=1, zorder=9)
o.plot([1225, 1229, 1233], [21, 17, 21], color=TXT, lw=1, zorder=9)
o.add_patch(FancyBboxPatch((1253, 11), 8, 7, boxstyle='round,pad=2,rounding_size=2.5', fc='white', ec=TXT, lw=1, zorder=9))

# 1D labels
box(0, 375, 190, 397, '#ffffff', 1)
t(8, 385, 'VNMIDCAP · 1D', '#2a2e39', TITLE)
pill(139, 376, 179, 393)
for v, y in [('1369.01', 417), ('1360.00', 432.7), ('1340.00', 468.7), ('1320.00', 504), ('1300.00', 539.7), ('1280.00', 575.3), ('1260.00', 610.7), ('1240.00', 646.3), ('20.00', 660), ('0.00', 701.5)]:
    t(392, y, v)
t(393, 382.5, 'VND ⌄')
box(350, 390, 383, 406, '#e3effd'); box(384, 390, 439, 406, '#e3effd')
t(366, 398, 'Đỉnh', '#444a55', ha='center'); t(392, 398, '1379.59', '#7f8794')
box(354, 621, 382, 638, '#e3effd'); box(384, 621, 439, 638, '#e3effd')
t(368, 629, 'Đáy', '#444a55', ha='center'); t(392, 630, '1249.17', '#2a2e39')
t(128, 720.5, 'Tháng 4', ha='center', z=4); t(245, 720.5, 'Thán', ha='right', z=4); t(350, 720.5, 'Tháng', z=4)
box(245, 706, 349, 730, '#131722', 7, 2)
t(297, 720.5, 'Th 3 16-05-2023', 'white', ha='center', z=8)
o.plot([296.5, 296.5], [369, 702], color='#8a8e98', lw=1, ls=(0, (4, 4)), zorder=6)
# logo
o.add_patch(Polygon([(10, 677.5), (24, 677.5), (24, 693), (17.5, 693), (17.5, 683), (10, 683)], fc='black', ec='white', lw=1, zorder=7))
o.add_patch(Circle((28.5, 681), 2.7, fc='black', ec='none', zorder=7))
o.add_patch(Polygon([(33, 677.5), (41, 677.5), (33.5, 693), (26, 693)], fc='black', ec='white', lw=0.8, zorder=7))

# 1W labels
t(455, 385, 'VNMIDCAP · 1W', '#2a2e39', TITLE)
pill(590, 376, 630, 393)
for v, y in [('1600.00', 456.3), ('1400.00', 510.5), ('1369.01', 523.7), ('1200.00', 572), ('20.00', 660), ('0.00', 701.5)]:
    t(838, y, v)
t(838, 537, '3d 20h', '#6a6d78')
t(840, 382.5, 'VND ⌄')
box(797, 390, 830, 406, '#e3effd'); box(831, 390, 886, 406, '#e3effd')
t(813, 398, 'Đỉnh', '#444a55', ha='center'); t(838, 398, '1801.54', '#7f8794')
box(800, 621, 829, 638, '#e3effd'); box(831, 621, 886, 638, '#e3effd')
t(814, 629, 'Đáy', '#444a55', ha='center'); t(838, 630, '1000.22', '#2a2e39')
t(544, 720.5, 'Tháng 9', ha='center', col='#2a2e39'); t(646, 720.5, '2023', ha='center', fontweight='bold')
box(709, 706, 813, 730, '#131722', 7, 2)
t(761, 720.5, 'Th 2 15-05-2023', 'white', ha='center', z=8)
o.plot([761, 761], [369, 702], color='#8a8e98', lw=1, ls=(0, (4, 4)), zorder=6)
o.plot([446, 830], [500, 500], color='#8a8e98', lw=1, ls=(0, (4, 4)), zorder=6)
box(830, 490, 886, 511, '#131722', 7, 2)
t(838, 500, '1447.35', 'white', z=8)

# 1M labels
t(901, 385, 'VNMIDCAP · 1M', '#2a2e39', TITLE)
pill(1035, 376, 1075, 393)
for v, y in [('2250.00', 410.5), ('2000.00', 444.7), ('1750.00', 478.7), ('1500.00', 512), ('1369.01', 530.5), ('1000.00', 580.7), ('750.00', 615), ('500.00', 650), ('20.00', 660), ('0.00', 701.5)]:
    t(1280, y, v)
t(1280, 545, '8d 20h', '#6a6d78')
t(1282, 382.5, 'VND ⌄')
box(1238, 390, 1271, 406, '#e3effd'); box(1272, 390, 1328, 406, '#e3effd')
t(1254, 398, 'Đỉnh', '#444a55', ha='center'); t(1280, 398, '2338.70', '#7f8794')
box(1242, 621, 1271, 638, '#e3effd'); box(1272, 621, 1320, 638, '#e3effd')
t(1256, 629, 'Đáy', '#444a55', ha='center'); t(1280, 630, '644.88', '#2a2e39')
t(892, 720.5, '019', '#2a2e39', fontweight='bold'); t(1041, 720.5, '2021', ha='center', fontweight='bold')
box(1157, 706, 1261, 730, '#131722', 7, 2)
t(1209, 720.5, 'Th 5 04-05-2023', 'white', ha='center', z=8)
o.plot([1209.3, 1209.3], [369, 702], color='#8a8e98', lw=1, ls=(0, (4, 4)), zorder=6)
o.plot([892, 1272], [520, 520], color='#8a8e98', lw=1, ls=(0, (4, 4)), zorder=6)
box(1272, 510, 1328, 530, '#131722', 7, 2)
t(1280, 520, '1447.35', 'white', z=8)

fig.savefig('out.png', dpi=100, facecolor='white')
